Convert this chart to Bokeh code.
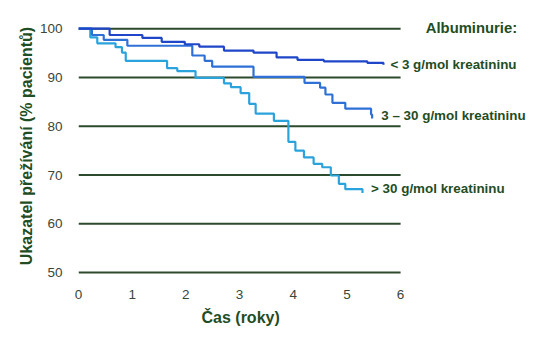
from bokeh.plotting import figure
from bokeh.models import Range1d, FixedTicker, ColumnDataSource, Title
from bokeh.core.properties import value
from bokeh.embed import file_html
from bokeh.resources import INLINE

# Data
x_ticks = [0, 1, 2, 3, 4, 5, 6]
y_ticks = [50, 60, 70, 80, 90, 100]

t_low = [0, 0.58, 1.19, 1.55, 1.98, 2.25, 2.71, 3.26, 3.69, 4.08, 4.57, 5.38, 5.68]
s_low = [100, 98.7, 98.1, 97.3, 96.8, 96.3, 95.5, 95.1, 94.1, 93.6, 93.3, 93.0, 92.6]

t_mid = [0, 0.25, 0.47, 0.91, 2.12, 2.35, 2.49, 3.26, 4.21, 4.50, 4.60, 4.73, 4.97, 5.45, 5.47]
s_mid = [100, 98.7, 97.7, 96.5, 94.5, 93.4, 92.2, 90.1, 88.9, 87.9, 86.5, 84.8, 83.6, 82.4, 81.6]

t_high = [0, 0.22, 0.35, 0.69, 0.81, 0.88, 1.65, 1.84, 2.18, 2.71, 2.84, 3.02, 3.18,
          3.30, 3.64, 3.91, 4.04, 4.20, 4.38, 4.54, 4.70, 4.85, 4.97, 5.29]
s_high = [100, 98.2, 97.0, 96.2, 95.1, 93.4, 91.9, 91.3, 89.9, 88.8, 88.0, 86.8, 84.6,
          82.6, 81.1, 76.8, 75.0, 73.6, 72.3, 71.6, 69.9, 68.2, 67.1, 66.3]

series_labels = ["< 3 g/mol kreatininu", "3 \u2013 30 g/mol kreatininu", "> 30 g/mol kreatininu"]
label_x = [5.81, 5.64, 5.45]
label_y = [92.6, 82.2, 67.2]
legend_title = "Albuminurie:"

x_label = "\u010cas (roky)"
y_label = "Ukazatel p\u0159e\u017e\u00edv\u00e1n\u00ed (% pacient\u016f)"

FONT = "Liberation Sans"
GREEN = "#1f4d24"
GRID = "#2c4a2c"
colors = ["#1f45c9", "#2f70d6", "#2aa3dd"]

p = figure(width=540, height=340, output_backend="svg", toolbar_location=None,
           x_range=Range1d(0, 8.42), y_range=Range1d(49, 102.9),
           min_border_left=78, min_border_right=10, min_border_top=14,
           min_border_bottom=63)
p.outline_line_color = None
p.grid.visible = False
p.background_fill_color = "white"
p.border_fill_color = "white"

# horizontal grid lines from 0 to 6
p.segment(x0=[x_ticks[0]] * len(y_ticks), x1=[x_ticks[-1]] * len(y_ticks),
          y0=y_ticks, y1=y_ticks, line_color=GRID, line_width=2)

for t, s, c in [(t_high, s_high, colors[2]), (t_mid, s_mid, colors[1]), (t_low, s_low, colors[0])]:
    p.step(t, s, mode="after", line_color=c, line_width=2.2)

src = ColumnDataSource(dict(x=label_x, y=label_y, text=series_labels))
p.text(x="x", y="y", text="text", source=src, text_font=value(FONT),
       text_font_style="bold", text_font_size="13.4px", text_color=GREEN,
       text_baseline="middle", text_align="left")
p.text(x=[6.47], y=[100.2], text=[legend_title], text_font=value(FONT),
       text_font_style="bold", text_font_size="14.8px", text_color=GREEN,
       text_baseline="middle", text_align="left")

p.xaxis.ticker = FixedTicker(ticks=x_ticks)
p.yaxis.ticker = FixedTicker(ticks=y_ticks)
for ax in (p.xaxis[0], p.yaxis[0]):
    ax.axis_line_color = None
    ax.major_tick_line_color = None
    ax.minor_tick_line_color = None
    ax.major_label_text_font = FONT
    ax.major_label_text_font_size = "13.5px"
    ax.major_label_text_color = "#3a463a"
    ax.axis_label_text_font = FONT
    ax.axis_label_text_font_style = "bold"
    ax.axis_label_text_font_size = "16px"
    ax.axis_label_text_color = GREEN
p.yaxis.axis_label = y_label
p.xaxis.major_label_standoff = 6
p.yaxis.major_label_standoff = 10
p.yaxis.axis_label_standoff = 2

# x axis title centred under the 0-6 span
p.add_layout(Title(text=x_label, align="left", offset=123, standoff=11,
                   text_font=FONT, text_font_style="bold", text_font_size="16px",
                   text_color=GREEN), "below")

open("out.html", "w").write(file_html(p, INLINE))
